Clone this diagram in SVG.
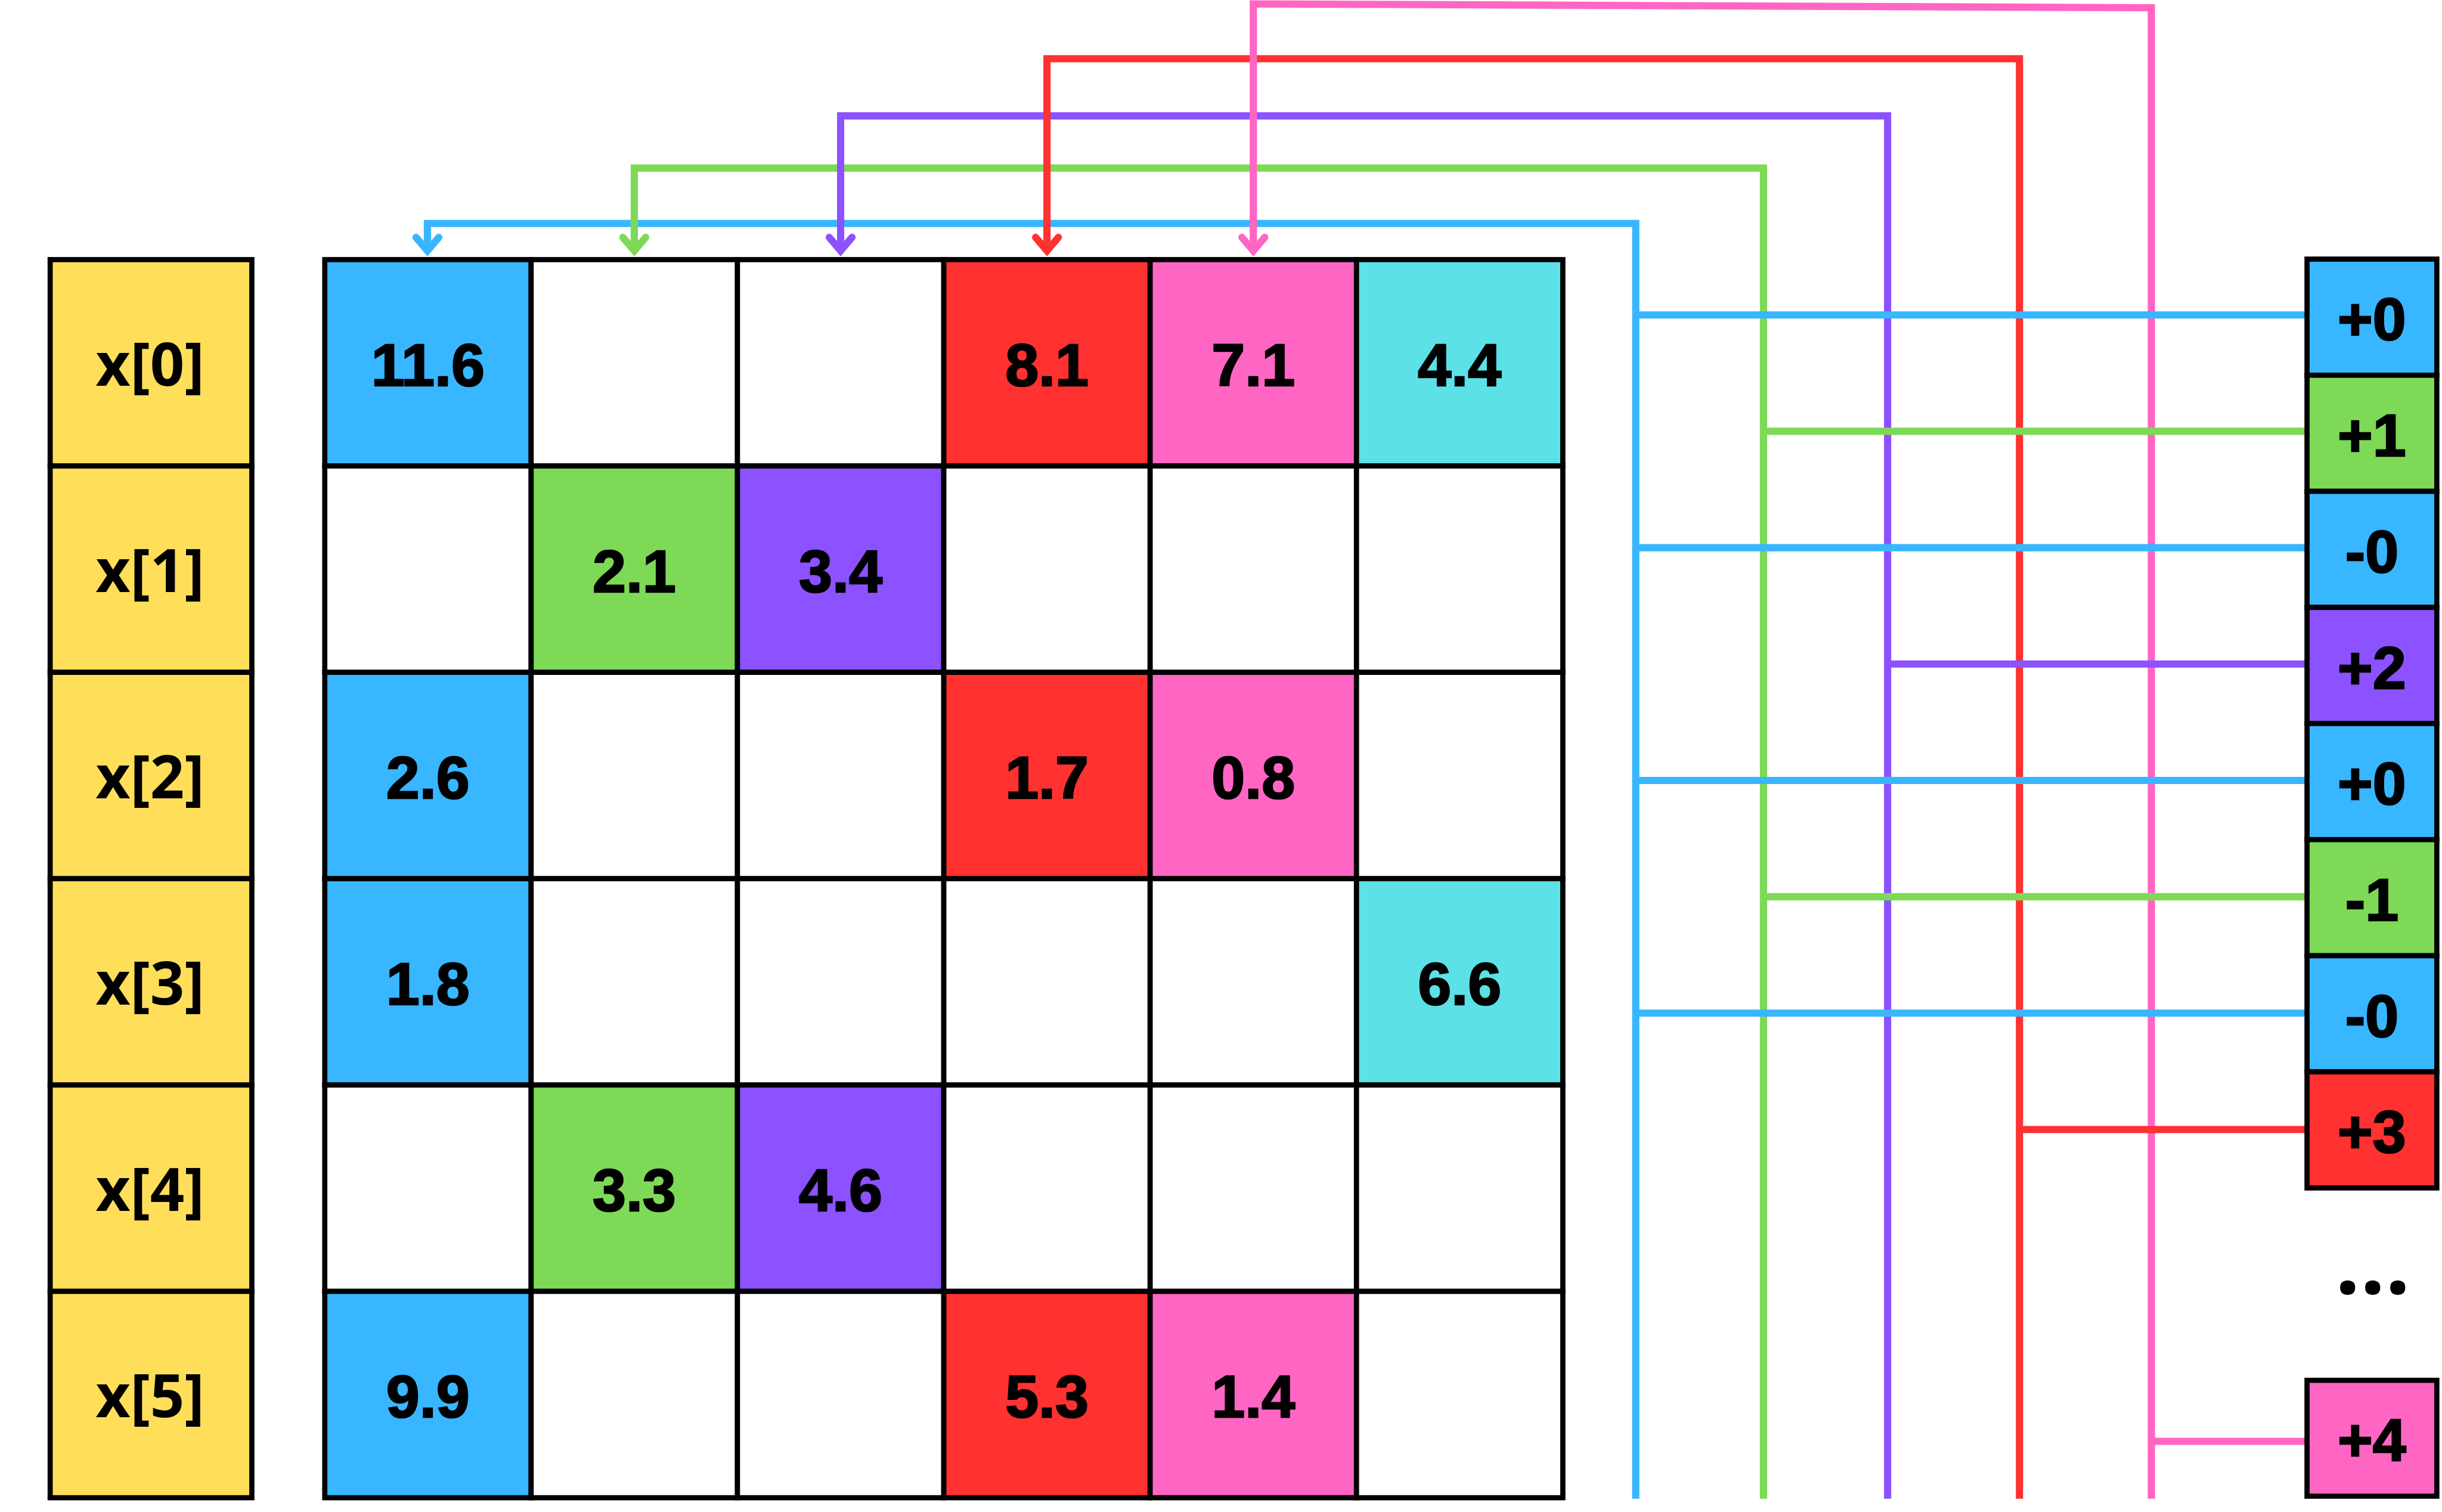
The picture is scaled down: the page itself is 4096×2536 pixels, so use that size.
<svg xmlns="http://www.w3.org/2000/svg" width="4096" height="2536" viewBox="0 0 4096 2536">
<style>
.cell{stroke:#000;stroke-width:10}
.w{fill:#FFFFFF}.y{fill:#FFDE59}.b{fill:#38B6FF}.g{fill:#7ED957}.p{fill:#8C52FF}.r{fill:#FF3131}.k{fill:#FF66C4}.c{fill:#5CE1E6}
.t{font-family:"Liberation Sans",Arial,sans-serif;font-weight:700;font-size:116px;text-anchor:middle;fill:#000;stroke:#000;stroke-width:3px}
.xl{font-family:"Open Sans","Liberation Sans",sans-serif;font-weight:700;font-size:116px;text-anchor:middle;fill:#000}
.dt{font-family:"Open Sans","Liberation Sans",sans-serif;font-weight:700;font-size:170px;text-anchor:middle;fill:#000}
.ln{fill:none;stroke-width:14;stroke-linejoin:miter}
.sb{stroke:#38B6FF}.sg{stroke:#7ED957}.sp{stroke:#8C52FF}.sr{stroke:#FF3131}.sk{stroke:#FF66C4}
.ah{fill:none;stroke-width:14;stroke-linecap:round;stroke-linejoin:miter}
</style>
<defs>
<marker id="mb" markerUnits="userSpaceOnUse" viewBox="-40 -40 60 80" markerWidth="60" markerHeight="80" refX="0" refY="0" orient="auto" overflow="visible"><path class="ah sb" d="M-26,-22 L0,0 L-26,22"/></marker>
<marker id="mg" markerUnits="userSpaceOnUse" viewBox="-40 -40 60 80" markerWidth="60" markerHeight="80" refX="0" refY="0" orient="auto" overflow="visible"><path class="ah sg" d="M-26,-22 L0,0 L-26,22"/></marker>
<marker id="mp" markerUnits="userSpaceOnUse" viewBox="-40 -40 60 80" markerWidth="60" markerHeight="80" refX="0" refY="0" orient="auto" overflow="visible"><path class="ah sp" d="M-26,-22 L0,0 L-26,22"/></marker>
<marker id="mr" markerUnits="userSpaceOnUse" viewBox="-40 -40 60 80" markerWidth="60" markerHeight="80" refX="0" refY="0" orient="auto" overflow="visible"><path class="ah sr" d="M-26,-22 L0,0 L-26,22"/></marker>
<marker id="mk" markerUnits="userSpaceOnUse" viewBox="-40 -40 60 80" markerWidth="60" markerHeight="80" refX="0" refY="0" orient="auto" overflow="visible"><path class="ah sk" d="M-26,-22 L0,0 L-26,22"/></marker>
</defs>
<rect x="0" y="0" width="4096" height="2536" fill="#FFFFFF"/>
<g transform="scale(0.867427)">
<g id="connectors">
<path class="ln sb" d="M3163,2898 V432 H826.5 V485" marker-end="url(#mb)"/>
<path class="ln sg" d="M3410,2898 V325 H1226.5 V485" marker-end="url(#mg)"/>
<path class="ln sp" d="M3650,2898 V224 H1625.5 V485" marker-end="url(#mp)"/>
<path class="ln sr" d="M3905,2898 V113.5 H2024.5 V485" marker-end="url(#mr)"/>
<path class="ln sk" d="M4160,2898 V15 L2423.5,7.5 V485" marker-end="url(#mk)"/>
<path class="ln sb" d="M3163,609 H4461 M3163,1059 H4461 M3163,1509 H4461 M3163,1959 H4461"/>
<path class="ln sg" d="M3410,834 H4461 M3410,1734 H4461"/>
<path class="ln sp" d="M3650,1284 H4461"/>
<path class="ln sr" d="M3905,2184 H4461"/>
<path class="ln sk" d="M4160,2787 H4461"/>
</g>
<g id="x0"><rect class="cell y" x="97" y="502" width="390" height="399"/><text class="xl" x="290" y="745.5">x[0]</text></g>
<g id="x1"><rect class="cell y" x="97" y="901" width="390" height="399"/><text class="xl" x="290" y="1144.5">x[1]</text></g>
<g id="x2"><rect class="cell y" x="97" y="1300" width="390" height="399"/><text class="xl" x="290" y="1543.5">x[2]</text></g>
<g id="x3"><rect class="cell y" x="97" y="1699" width="390" height="399"/><text class="xl" x="290" y="1942.5">x[3]</text></g>
<g id="x4"><rect class="cell y" x="97" y="2098" width="390" height="399"/><text class="xl" x="290" y="2341.5">x[4]</text></g>
<g id="x5"><rect class="cell y" x="97" y="2497" width="390" height="399"/><text class="xl" x="290" y="2740.5">x[5]</text></g>
<g id="matrix">
<g id="m00"><rect class="cell b" x="628" y="502" width="399" height="399"/><text class="t" x="827.5" y="745.5">11.6</text></g>
<g id="m01"><rect class="cell w" x="1027" y="502" width="399" height="399"/></g>
<g id="m02"><rect class="cell w" x="1426" y="502" width="399" height="399"/></g>
<g id="m03"><rect class="cell r" x="1825" y="502" width="399" height="399"/><text class="t" x="2024.5" y="745.5">8.1</text></g>
<g id="m04"><rect class="cell k" x="2224" y="502" width="399" height="399"/><text class="t" x="2423.5" y="745.5">7.1</text></g>
<g id="m05"><rect class="cell c" x="2623" y="502" width="399" height="399"/><text class="t" x="2822.5" y="745.5">4.4</text></g>
<g id="m10"><rect class="cell w" x="628" y="901" width="399" height="399"/></g>
<g id="m11"><rect class="cell g" x="1027" y="901" width="399" height="399"/><text class="t" x="1226.5" y="1144.5">2.1</text></g>
<g id="m12"><rect class="cell p" x="1426" y="901" width="399" height="399"/><text class="t" x="1625.5" y="1144.5">3.4</text></g>
<g id="m13"><rect class="cell w" x="1825" y="901" width="399" height="399"/></g>
<g id="m14"><rect class="cell w" x="2224" y="901" width="399" height="399"/></g>
<g id="m15"><rect class="cell w" x="2623" y="901" width="399" height="399"/></g>
<g id="m20"><rect class="cell b" x="628" y="1300" width="399" height="399"/><text class="t" x="827.5" y="1543.5">2.6</text></g>
<g id="m21"><rect class="cell w" x="1027" y="1300" width="399" height="399"/></g>
<g id="m22"><rect class="cell w" x="1426" y="1300" width="399" height="399"/></g>
<g id="m23"><rect class="cell r" x="1825" y="1300" width="399" height="399"/><text class="t" x="2024.5" y="1543.5">1.7</text></g>
<g id="m24"><rect class="cell k" x="2224" y="1300" width="399" height="399"/><text class="t" x="2423.5" y="1543.5">0.8</text></g>
<g id="m25"><rect class="cell w" x="2623" y="1300" width="399" height="399"/></g>
<g id="m30"><rect class="cell b" x="628" y="1699" width="399" height="399"/><text class="t" x="827.5" y="1942.5">1.8</text></g>
<g id="m31"><rect class="cell w" x="1027" y="1699" width="399" height="399"/></g>
<g id="m32"><rect class="cell w" x="1426" y="1699" width="399" height="399"/></g>
<g id="m33"><rect class="cell w" x="1825" y="1699" width="399" height="399"/></g>
<g id="m34"><rect class="cell w" x="2224" y="1699" width="399" height="399"/></g>
<g id="m35"><rect class="cell c" x="2623" y="1699" width="399" height="399"/><text class="t" x="2822.5" y="1942.5">6.6</text></g>
<g id="m40"><rect class="cell w" x="628" y="2098" width="399" height="399"/></g>
<g id="m41"><rect class="cell g" x="1027" y="2098" width="399" height="399"/><text class="t" x="1226.5" y="2341.5">3.3</text></g>
<g id="m42"><rect class="cell p" x="1426" y="2098" width="399" height="399"/><text class="t" x="1625.5" y="2341.5">4.6</text></g>
<g id="m43"><rect class="cell w" x="1825" y="2098" width="399" height="399"/></g>
<g id="m44"><rect class="cell w" x="2224" y="2098" width="399" height="399"/></g>
<g id="m45"><rect class="cell w" x="2623" y="2098" width="399" height="399"/></g>
<g id="m50"><rect class="cell b" x="628" y="2497" width="399" height="399"/><text class="t" x="827.5" y="2740.5">9.9</text></g>
<g id="m51"><rect class="cell w" x="1027" y="2497" width="399" height="399"/></g>
<g id="m52"><rect class="cell w" x="1426" y="2497" width="399" height="399"/></g>
<g id="m53"><rect class="cell r" x="1825" y="2497" width="399" height="399"/><text class="t" x="2024.5" y="2740.5">5.3</text></g>
<g id="m54"><rect class="cell k" x="2224" y="2497" width="399" height="399"/><text class="t" x="2423.5" y="2740.5">1.4</text></g>
<g id="m55"><rect class="cell w" x="2623" y="2497" width="399" height="399"/></g>
</g>
<g id="o0"><rect class="cell b" x="4461" y="501" width="251" height="224.5"/><text class="t" x="4586.5" y="657.5">+0</text></g>
<g id="o1"><rect class="cell g" x="4461" y="725.5" width="251" height="224.5"/><text class="t" x="4586.5" y="882">+1</text></g>
<g id="o2"><rect class="cell b" x="4461" y="950" width="251" height="224.5"/><text class="t" x="4586.5" y="1106.5">-0</text></g>
<g id="o3"><rect class="cell p" x="4461" y="1174.5" width="251" height="224.5"/><text class="t" x="4586.5" y="1331">+2</text></g>
<g id="o4"><rect class="cell b" x="4461" y="1399" width="251" height="224.5"/><text class="t" x="4586.5" y="1555.5">+0</text></g>
<g id="o5"><rect class="cell g" x="4461" y="1623.5" width="251" height="224.5"/><text class="t" x="4586.5" y="1780">-1</text></g>
<g id="o6"><rect class="cell b" x="4461" y="1848" width="251" height="224.5"/><text class="t" x="4586.5" y="2004.5">-0</text></g>
<g id="o7"><rect class="cell r" x="4461" y="2072.5" width="251" height="224.5"/><text class="t" x="4586.5" y="2229">+3</text></g>
<g id="dots"><text class="dt" x="4588" y="2502">...</text></g>
<g id="o8"><rect class="cell k" x="4461" y="2669" width="251" height="224"/><text class="t" x="4586.5" y="2825">+4</text></g>
</g>
</svg>
